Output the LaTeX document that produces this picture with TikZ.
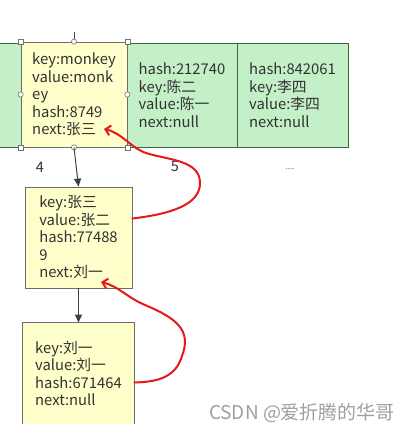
\documentclass[tikz,border=0pt]{standalone}
\usepackage{fontspec}
\setmainfont{Noto Sans CJK SC}
\usetikzlibrary{arrows.meta}
\definecolor{cellgreen}{RGB}{196,240,200}
\definecolor{cellyellow}{RGB}{255,255,204}
\definecolor{penred}{RGB}{232,24,24}
\definecolor{inkgray}{RGB}{50,50,50}

\begin{document}
\begin{tikzpicture}[x=1pt,y=-1pt,
    entry/.style={fill=cellyellow, draw=gray!85!black, line width=0.8pt, align=left, inner sep=0pt,
      text=inkgray, font=\fontsize{14.8}{17.5}\selectfont},
    bucket/.style={fill=cellgreen, draw=green!20!black!75, line width=0.8pt, align=left, inner sep=0pt,
      minimum height=104pt, text=inkgray, font=\fontsize{14.8}{17.5}\selectfont},
    handle/.style={draw=gray!90!black, fill=white, line width=0.6pt},
    nextptr/.style={-{Triangle[length=8pt,width=7pt]}, line width=1pt, draw=black!75},
    redline/.style={draw=penred, line width=2pt, line cap=round, line join=round,
      -{Straight Barb[length=5pt,width=10pt]}},
    lbl/.style={text=inkgray, font=\fontsize{14.5}{14.5}\selectfont}]

  \useasboundingbox (0,0) rectangle (414,433);

  % table row
  \fill[cellgreen] (0,43) rectangle (22,147);
  \draw[green!20!black!75, line width=0.8pt] (0,43) -- (22,43) (0,147) -- (22,147);
  \node[bucket, minimum width=110pt] (b1) at (182,95) {hash:212740\\key:陈二\\value:陈一\\next:null};
  \node[bucket, minimum width=111pt] (b2) at (292.5,95) {hash:842061\\key:李四\\value:李四\\next:null};

  % linked entries
  \node[entry, minimum width=106pt, minimum height=105pt] (n1) at (74,94.5)
    {key:monkey\\value:monk\\ey\\hash:8749\\next:张三};
  \node[entry, minimum width=107pt, minimum height=101pt] (n2) at (78.5,237.5)
    {key:张三\\value:张二\\hash:77488\\9\\next:刘一};
  \node[entry, draw=none, minimum width=111pt, minimum height=101pt] (n3) at (78.5,373.5)
    {key:刘一\\value:刘一\\hash:671464\\next:null};
  \draw[gray!85!black, line width=0.8pt] (n3.south west) -- (n3.north west) -- (n3.north east) -- (n3.south east);

  % selection handles
  \draw[gray!60!black, line width=0.8pt] (n1.north) -- ++(0,-10);
  \foreach \a in {north west, north east, south west, south east}
    \draw[handle] ([shift={(-2.5,-2.5)}]n1.\a) rectangle ++(5,5);
  \foreach \a in {north, west, east, south}
    \draw[handle] (n1.\a) circle (2.6pt);

  \draw[nextptr] (n1.south) -- (n2.north);
  \draw[nextptr] (n2.south) -- (n3.north);

  \node[lbl] (four) at (40,167) {4};
  \node[lbl] (five) at (175,166) {5};
  \node[text=gray!80!black, font=\fontsize{8}{8}\selectfont] (more) at (290,169) {....};

  % hand drawn arrows
  \coordinate (tip1) at (104,129);
  \coordinate (tip2) at (101,282);
  \draw[redline] ([yshift=19pt]n2.east) .. controls (170,214) and (201,205) .. (200,182)
    .. controls (199,160) and (168,160) .. (146,153) .. controls (131,148) and (122,133) .. (tip1);
  \draw[redline] ([yshift=-9pt]n3.east) .. controls (160,382) and (176,376) .. (182,356)
    .. controls (192,330) and (176,318) .. (145,305) .. controls (128,298) and (118,286) .. (tip2);

  \node[text=gray!75, font=\fontsize{19}{19}\selectfont] (mark) at (302,413) {CSDN @爱折腾的华哥};
\end{tikzpicture}
\end{document}
